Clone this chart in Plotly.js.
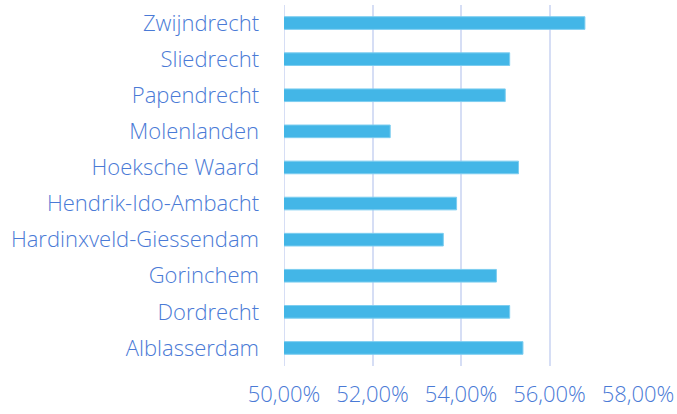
<!DOCTYPE html>
<html>
<head>
<meta charset="utf-8">
<script src="https://cdn.plot.ly/plotly-3.0.1.min.js"></script>
<style>html,body{margin:0;padding:0;background:#fff;}#chart{width:677px;height:414px;}</style>
</head>
<body>
<div id="chart"></div>
<script>
const categories = ["Alblasserdam","Dordrecht","Gorinchem","Hardinxveld-Giessendam","Hendrik-Ido-Ambacht","Hoeksche Waard","Molenlanden","Papendrecht","Sliedrecht","Zwijndrecht"];
const values = [0.554, 0.551, 0.548, 0.536, 0.539, 0.553, 0.524, 0.550, 0.551, 0.568];
const xTicks = [0.50, 0.52, 0.54, 0.56, 0.58];

const textColor = "#4a7ad6";
const font = {family: "'Segoe UI Light', 'Segoe UI', 'Open Sans', sans-serif", size: 22, color: textColor, weight: 300};

Plotly.newPlot("chart", [{
  type: "bar",
  orientation: "h",
  y: categories,
  x: values,
  base: 0,
  width: 0.35,
  marker: {color: "#43b6e7", line: {color: "#7ccdf0", width: 1}},
  hoverinfo: "x+y"
}], {
  width: 677, height: 414,
  margin: {l: 284, r: 39, t: 5, b: 48},
  paper_bgcolor: "#fff", plot_bgcolor: "#fff",
  separators: ",.",
  showlegend: false,
  font: font,
  xaxis: {
    range: [0.50, 0.58],
    tickvals: xTicks,
    tickformat: ".2%",
    showgrid: true, gridcolor: "#d6def5", gridwidth: 2,
    zeroline: false, showline: false,
    ticks: "", ticklabelstandoff: 13,
    tickfont: font
  },
  yaxis: {
    type: "category",
    categoryorder: "array", categoryarray: categories,
    showgrid: false, zeroline: false,
    showline: false,
    ticks: "", ticklabelstandoff: 24,
    tickfont: font
  },
  shapes: [{type: "line", xref: "x", yref: "paper", x0: 0.50, x1: 0.50, y0: 0, y1: 1, line: {color: "#d6def5", width: 2}, layer: "below"}]
}, {staticPlot: true});
</script>
</body>
</html>
